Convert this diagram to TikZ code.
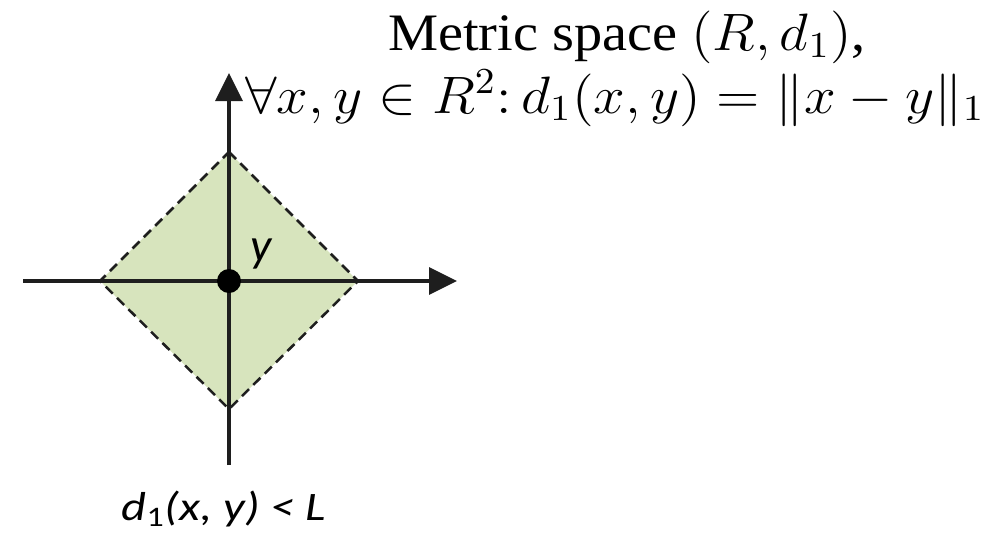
\documentclass[tikz,border=0pt]{standalone}
\usepackage{fontspec}
\setmainfont{Liberation Serif}
\newfontfamily\calfont{Carlito}
\usetikzlibrary{arrows.meta}
\definecolor{lightgreen}{RGB}{215,228,189}
\definecolor{axisgray}{RGB}{30,30,30}
\tikzset{axis/.style = {draw=axisgray, line width=0.07cm,
                        -{Triangle[length=0.56cm, width=0.54cm]}}}

\begin{document}
\begin{tikzpicture}[x=0.02cm, y=-0.02cm, border/.style = {draw=axisgray, line width=0.05cm, dash pattern=on 0.2cm off 0.12cm}, title/.style = {anchor=base, scale=2.08, font=\fontsize{14.4}{17}\selectfont}]
\useasboundingbox (0,0) rectangle (986,532);
\coordinate (0) at (229,281);
\coordinate (1) at (229,152);
\coordinate (2) at (358,281);
\coordinate (3) at (229,409);
\coordinate (4) at (100,281);
\fill[lightgreen] (1) -- (2) -- (3) -- (4) -- cycle;
\draw[border] (1) -- (2) -- (3) -- (4) -- cycle;
\coordinate (xl) at (23,281);
\coordinate (xr) at (457,281);
\coordinate (yb) at (229,465);
\coordinate (yt) at (229,73);
\draw[axis] (xl) -- (xr);
\draw[axis] (yb) -- (yt);
\node[circle, fill=black, inner sep=0pt, minimum size=0.48cm] (p) at (0) {};
\node[anchor=base, font=\calfont\itshape\fontsize{27}{30}\selectfont] (ly) at (261,261) {y};
\node[anchor=base, xscale=1.2, font=\calfont\itshape\fontsize{23}{26}\selectfont] (ld) at (224,520) {d\textsubscript{\upshape 1}(x, y) < L};
\node[title, xscale=1.07] (t1) at (627,50) {Metric space $(R, d_1)$,};
\node[title, xscale=1.08] (t2) at (615,113) {$\forall x, y \in R^2\colon d_1(x, y) = \|x - y\|_1$};
\end{tikzpicture}
\end{document}
